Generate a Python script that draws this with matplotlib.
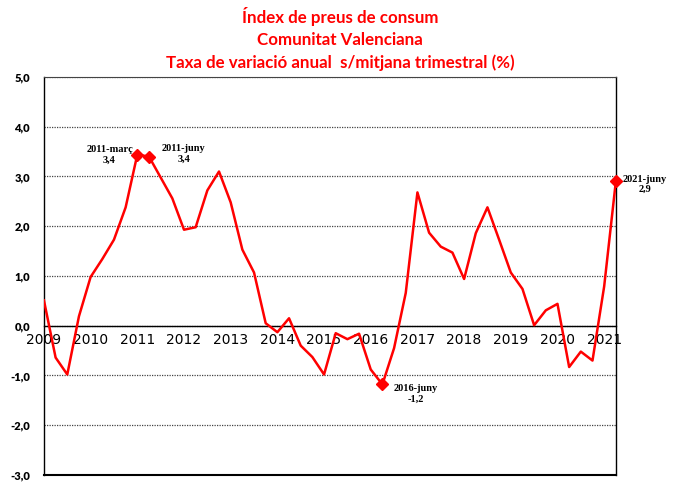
import numpy as np
import matplotlib.pyplot as plt

# quarterly series, 2009 Q1 .. 2021 Q2
taxa = [0.51, -0.64, -0.98, 0.19, 0.98, 1.34, 1.73, 2.38,
        3.44, 3.40, 2.98, 2.56, 1.93, 1.98, 2.72, 3.10,
        2.48, 1.53, 1.07, 0.05, -0.13, 0.15, -0.40, -0.63,
        -0.98, -0.15, -0.27, -0.16, -0.88, -1.18, -0.45, 0.66,
        2.68, 1.87, 1.59, 1.47, 0.94, 1.86, 2.38, 1.73,
        1.07, 0.74, 0.01, 0.31, 0.44, -0.83, -0.52, -0.70,
        0.79, 2.90]
anys = [str(a) for a in range(2009, 2022)]
y_ticks = [5, 4, 3, 2, 1, 0, -1, -2, -3]

# highlighted points: (index, label, value text)
destacats = [(8, '2011-març', '3,4'), (9, '2011-juny', '3,4'),
             (29, '2016-juny', '-1,2'), (49, '2021-juny', '2,9')]
offsets = [(-20, 0), (25, 2), (24, -7), (21, -2)]

x = np.arange(len(taxa))

fig = plt.figure(figsize=(6.76, 4.83), dpi=100)
ax = fig.add_axes([0.065, 0.0166, 0.846, 0.824])

ax.plot(x, taxa, color='#ff0000', lw=1.8, zorder=3)
for (i, lab, val), off in zip(destacats, offsets):
    ax.plot(x[i], taxa[i], marker='D', ms=6, color='#ff0000', zorder=4, clip_on=False)
    ax.annotate(lab + '\n' + val, (x[i], taxa[i]), textcoords='offset points', xytext=off,
                ha='center', va='center', fontsize=7.5, fontweight='bold',
                family='Liberation Serif', linespacing=1.2)

ax.set_xlim(0, 49)
ax.set_ylim(-3, 5)
ax.set_yticks(y_ticks)
ax.set_yticklabels([f'{v:.1f}'.replace('.', ',') for v in y_ticks],
                   fontsize=8, fontweight='heavy', family='Lato')
ax.set_xticks(np.arange(0, len(taxa), 4))
ax.set_xticklabels(anys, fontsize=7.6, fontweight='heavy', family='Lato')
ax.tick_params(axis='both', length=0)
ax.tick_params(axis='x', pad=5)
ax.tick_params(axis='y', pad=10)

ax.yaxis.grid(True, linestyle=(0, (1, 1)), color='#444444', lw=0.9)
ax.spines['bottom'].set_position(('data', 0))
ax.spines['bottom'].set_linewidth(1.0)
ax.axhline(-3, color='black', lw=1.5, clip_on=False)
ax.spines['top'].set_linestyle((0, (1, 1)))
ax.spines['top'].set_color('#444444')
for s in ['left', 'right']:
    ax.spines[s].set_linewidth(1.0)

titol = ['Índex de preus de consum', 'Comunitat Valenciana',
         'Taxa de variació anual  s/mitjana trimestral (%)']
for k, t in enumerate(titol):
    fig.text(0.503, 1 - (17 + 23 * k) / 483, t, ha='center', va='center',
             color='#ff0000', fontsize=12.2, fontweight='bold', family='Lato')

fig.savefig('out.png', dpi=100)
